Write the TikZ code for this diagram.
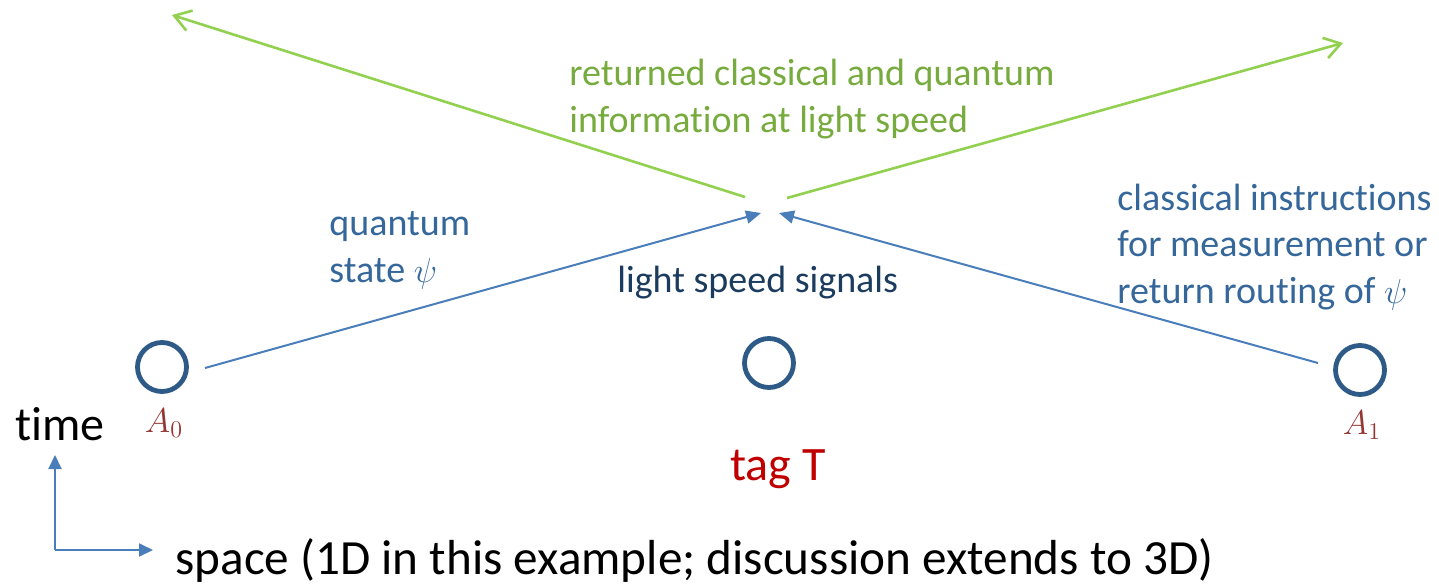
\documentclass[tikz,border=0pt]{standalone}
\usepackage{fontspec}
\setmainfont{Carlito}[Ligatures=NoCommon]
\usetikzlibrary{arrows.meta}
\definecolor{sigblue}{HTML}{4A7EBB}
\definecolor{ringblue}{HTML}{2E5A88}
\definecolor{txtblue}{HTML}{35679A}
\definecolor{navy}{HTML}{1B3C5E}
\definecolor{tagred}{HTML}{C00000}
\definecolor{labred}{HTML}{943634}
\definecolor{retgreen}{HTML}{92D050}
\definecolor{txtgreen}{HTML}{78AB3E}
\tikzset{
  site/.style={circle, draw=ringblue, line width=2.4pt, minimum size=24.5pt, inner sep=0pt},
  signal/.style={draw=sigblue, line width=1pt, -{Triangle[length=7.5pt,width=6.5pt]}},
  returned/.style={draw=retgreen, line width=1.3pt, -{Straight Barb[length=8pt,width=10.5pt,line width=1.3pt]}},
  axis/.style={draw=sigblue, line width=1pt, -{Triangle[length=7pt,width=6.5pt]}},
  lbl/.style={inner sep=0pt, font=\fontsize{19pt}{23.2pt}\selectfont},
  big/.style={inner sep=0pt, font=\fontsize{24pt}{29pt}\selectfont},
  sitelbl/.style={inner sep=0pt, text=labred, font=\fontsize{17pt}{20pt}\selectfont}
}
\begin{document}
\begin{tikzpicture}[x=0.5pt, y=-0.5pt]
\useasboundingbox (0,0) rectangle (1439,584);

% sites along the 1D space axis
\node[site] (a0) at (162,367) {};
\node[site] (tag) at (769,363) {};
\node[site] (a1) at (1360,370) {};
\node[sitelbl, anchor=base] (a0l) at (164,432) {$A_0$};
\node[sitelbl, anchor=base] (a1l) at (1362,434) {$A_1$};

% meeting point of the incoming signals
\coordinate (inL) at (205,368);
\coordinate (inR) at (1318,363);
\coordinate (hitL) at (761,213);
\coordinate (hitR) at (779,213);
\draw[signal] (inL) -- (hitL);
\draw[signal] (inR) -- (hitR);

% outgoing light-speed returns
\coordinate (outL) at (745,197);
\coordinate (outR) at (787,198);
\coordinate (farL) at (172,15);
\coordinate (farR) at (1343,43);
\draw[returned] (outL) -- (farL);
\draw[returned] (outR) -- (farR);

% labels (base anchor of a multi-line node sits on its last line)
\node[lbl, text=txtgreen, anchor=base west, align=left] (ret) at (569,132)
  {returned classical and quantum\\information at light speed};
\node[lbl, text=txtblue, anchor=base west, align=left] (qs) at (329,282)
  {quantum\\state $\psi$};
\node[lbl, text=txtblue, anchor=base west, align=left] (ci) at (1117,303)
  {classical instructions\\for measurement or\\return routing of $\psi$};
\node[lbl, text=navy, anchor=base west] (ls) at (617,292) {light speed signals};
\node[big, text=tagred, anchor=base west] (tagl) at (730,480) {tag T};

% space-time axes
\coordinate (org) at (55,550);
\coordinate (tup) at (55,455);
\coordinate (xrt) at (153,550);
\draw[axis] (org) -- (tup);
\draw[axis] (org) -- (xrt);
\node[big, anchor=base west] (time) at (15,440) {time};
\node[big, anchor=base west, font=\fontsize{24.6pt}{29pt}\selectfont] (space) at (175,574)
  {space (1D in this example; discussion extends to 3D)};
\end{tikzpicture}
\end{document}
